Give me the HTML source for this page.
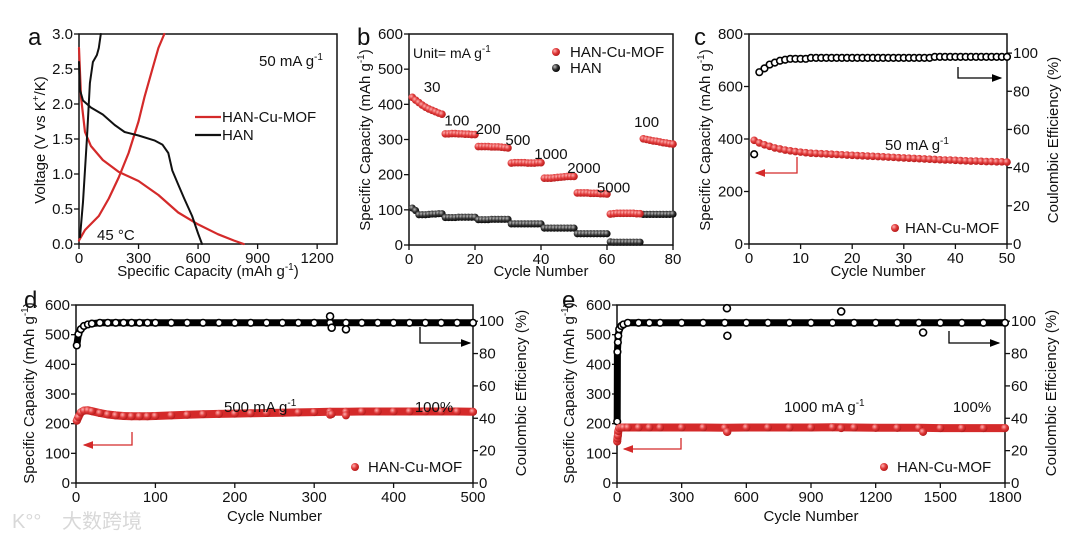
<!DOCTYPE html>
<html><head><meta charset="utf-8"><style>
body{margin:0;background:#fff;}
svg{display:block;font-family:"Liberation Sans","Noto Sans CJK SC",sans-serif;}
</style></head><body>
<svg id="fig" width="1080" height="540" viewBox="0 0 1080 540" xmlns="http://www.w3.org/2000/svg">
<defs>
<radialGradient id="rg" cx="0.35" cy="0.35" r="0.7"><stop offset="0" stop-color="#ffb0b0"/><stop offset="0.5" stop-color="#e03a3a"/><stop offset="1" stop-color="#b01818"/></radialGradient>
<radialGradient id="kg" cx="0.35" cy="0.35" r="0.7"><stop offset="0" stop-color="#bbb"/><stop offset="0.5" stop-color="#333"/><stop offset="1" stop-color="#000"/></radialGradient>
<marker id="arK" markerWidth="8" markerHeight="6" refX="7" refY="3" orient="auto"><path d="M0,0 L8,3 L0,6 z" fill="#000"/></marker>
<marker id="arR" markerWidth="8" markerHeight="6" refX="7" refY="3" orient="auto"><path d="M0,0 L8,3 L0,6 z" fill="#d42a2a"/></marker>
</defs>
</svg>
<script>
// ---- Panel a data ----
const aMofDisX=[0,10,30,60,120,200,300,400,500,600,700,780,830];
const aMofDisY=[2.8,2.1,1.6,1.4,1.2,1.03,0.9,0.7,0.45,0.28,0.14,0.05,0.0];
const aMofChX=[0,30,100,150,200,250,300,330,370,400,430];
const aMofChY=[0.05,0.2,0.4,0.65,0.95,1.3,1.75,2.1,2.5,2.8,3.0];
const aHanDisX=[0,5,20,60,120,180,230,300,380,420,450,470,500,530,570,600,620];
const aHanDisY=[2.6,2.2,2.05,1.95,1.85,1.7,1.6,1.55,1.48,1.42,1.3,1.05,0.85,0.65,0.4,0.15,0.0];
const aHanChX=[5,20,40,55,70,90,100,110];
const aHanChY=[0.1,0.6,1.5,2.3,2.6,2.7,2.8,3.0];
const aXTicks=[0,300,600,900,1200];
const aYTicks=[0,0.5,1.0,1.5,2.0,2.5,3.0];
// ---- Panel b data ----
const bMof=[420,412,405,398,392,387,383,379,375,372,316,316,317,317,316,316,315,315,314,314,280,280,280,280,279,279,279,278,277,276,233,234,234,234,234,233,233,233,234,234,190,190,190,191,192,193,194,195,195,195,148,148,148,148,147,147,147,146,146,145,88,89,90,90,90,90,90,90,89,89,302,300,298,296,295,293,291,290,288,287];
const bHan=[105,98,86,86,86,87,88,88,89,89,78,78,78,78,79,79,79,79,79,79,72,72,72,72,73,73,73,73,73,73,60,60,60,60,60,60,60,60,60,60,48,48,48,48,48,48,48,48,48,48,32,32,32,32,32,32,32,32,32,32,9,8,8,8,8,8,8,8,8,8,87,87,87,87,87,87,87,87,87,88];
const bRateLabels=["30","100","200","500","1000","2000","5000","100"];
const bRateCycles=[7,14.5,24,33,43,53,62,72];
const bRateCaps=[435,340,315,285,245,205,150,335];
// ---- Panel c data ----
const cCap=[395,385,378,372,366,362,358,355,352,350,348,346,345,344,343,342,341,340,339,338,337,336,335,334,333,332,331,330,329,328,327,326,325,324,323,322,321,320,320,319,318,317,316,316,315,314,314,313,313,312];
const cCE=[47,90,92,94,95,96,96.5,97,97,97,97,97.5,97.5,97.5,97.5,97.5,97.5,97.5,97.5,97.5,97.5,97.5,97.5,97.5,97.5,97.5,97.5,97.5,97.5,97.5,97.5,97.5,97.5,97.5,97.5,98,98,98,98,98,98,98,98,98,98,98,98,98,98,98];
// ---- Panel d data ----
const dCycles=[1,3,6,10,15,20,30,40,50,60,70,80,90,100,120,140,160,180,200,220,240,260,280,300,320,340,360,380,400,420,440,460,480,500];
const dCap=[210,222,238,244,245,242,236,231,228,226,225,225,225,226,228,230,232,233,234,235,236,237,238,239,240,240,241,241,241,241,241,241,241,240];
const dCE=[85,92,95,97,98,98.5,99,99,99,99,99,99,99,99,99,99,99,99,99,99,99,99,99,99,99,99,99,99,99,99,99,99,99,99];
const dOutCycles=[320,322,340];
const dOutCE=[103,96,95];
const dOutCap=[230,232,228];
// ---- Panel e data ----
const eCycles=[1,2,4,6,10,20,30,50,100,150,200,300,400,500,600,700,800,900,1000,1100,1200,1300,1400,1500,1600,1700,1800];
const eCap=[140,150,160,175,185,187,187,187,187,187,187,187,187,186,187,187,187,187,188,187,186,186,186,185,185,185,185];
const eCE=[38,81,87,91,95,97,98,99,99,99,99,99,99,99,99,99,99,99,99,99,99,99,99,99,99,99,99];
const eOutCycles=[510,512,1040,1420];
const eOutCE=[108,91,106,93];
const eOutCap=[172,172,185,172];

const NS="http://www.w3.org/2000/svg";
const svg=document.getElementById('fig');
function el(tag,attrs,parent){const e=document.createElementNS(NS,tag);for(const k in attrs)e.setAttribute(k,attrs[k]);(parent||svg).appendChild(e);return e;}
function txt(x,y,s,opt,parent){opt=opt||{};const t=el('text',{x:x,y:y,'font-size':opt.fs||15,'text-anchor':opt.anchor||'start',fill:opt.fill||'#111'},parent);if(opt.rot)t.setAttribute('transform','rotate('+opt.rot+' '+x+' '+y+')');t.innerHTML=s;return t;}
function lin(d0,d1,r0,r1){return v=>r0+(v-d0)*(r1-r0)/(d1-d0);}
function frame(g,x0,x1,y0,y1,xs,ys,xt,yt,yR,yRt,yfmt){
  const f=el('rect',{x:x0,y:y1,width:x1-x0,height:y0-y1,fill:'none',stroke:'#111','stroke-width':1.5},g);
  
  xt.forEach(v=>{const x=xs(v);el('line',{x1:x,y1:y0,x2:x,y2:y0+5,stroke:'#111','stroke-width':1.3},g);const t=txt(x,y0+19,v,{anchor:'middle'},g);});
  yt.forEach(v=>{const y=ys(v);el('line',{x1:x0-5,y1:y,x2:x0,y2:y,stroke:'#111','stroke-width':1.3},g);const t=txt(x0-6,y+5,yfmt?yfmt(v):v,{anchor:'end'},g);});
  if(yR){yRt.forEach(v=>{const y=yR(v);el('line',{x1:x1,y1:y,x2:x1+5,y2:y,stroke:'#111','stroke-width':1.3},g);const t=txt(x1+6,y+5,v,{},g);});}
}
function path(g,xs,ys,X,Y,color,w){let d='';X.forEach((v,i)=>{d+=(i?'L':'M')+xs(v).toFixed(1)+','+ys(Y[i]).toFixed(1);});return el('path',{d:d,fill:'none',stroke:color,'stroke-width':w||2,'stroke-linejoin':'round','stroke-linecap':'round'},g);}
function redDot(g,x,y,r){return el('circle',{cx:x,cy:y,r:r||3.6,fill:'url(#rg)'},g);}
function blkDot(g,x,y,r){return el('circle',{cx:x,cy:y,r:r||3.3,fill:'#fff',stroke:'#000','stroke-width':1.6},g);}

// ===== Panel a =====
{const g=el('g',{});
const xs=lin(0,1300,79,337), ys=lin(0,3,244,34);
frame(g,79,337,244,34,xs,ys,aXTicks,aYTicks,null,null,v=>v.toFixed(1));
const p1=path(g,xs,ys,aMofDisX,aMofDisY,'#d42a2a',2.2);
const p2=path(g,xs,ys,aMofChX,aMofChY,'#d42a2a',2.2);
const p3=path(g,xs,ys,aHanDisX,aHanDisY,'#111',2);
const p4=path(g,xs,ys,aHanChX,aHanChY,'#111',2);
const l=txt(28,45,'a',{fs:24});
const n=txt(259,66,'50 mA g<tspan dy="-6" font-size="10">-1</tspan>',{},g);
const t45=txt(97,240,'45 °C',{},g);
const lg1=el('line',{x1:195,y1:117,x2:221,y2:117,stroke:'#d42a2a','stroke-width':2.2},g);
const lt1=txt(222,122,'HAN-Cu-MOF',{},g);
const lg2=el('line',{x1:195,y1:135,x2:221,y2:135,stroke:'#111','stroke-width':2.2},g);
const lt2=txt(222,140,'HAN',{},g);
const yt=txt(45,140,'Voltage (V vs K<tspan dy="-6" font-size="10">+</tspan><tspan dy="6">/K)</tspan>',{anchor:'middle',rot:-90},g);
const xt=txt(208,276,'Specific Capacity (mAh g<tspan dy="-6" font-size="10">-1</tspan><tspan dy="6">)</tspan>',{anchor:'middle'},g);
}
// ===== Panel b =====
{const g=el('g',{});
const xs=lin(0,80,409,673), ys=lin(0,600,245,34);
frame(g,409,673,245,34,xs,ys,[0,20,40,60,80],[0,100,200,300,400,500,600],null,null);
bHan.forEach((v,i)=>{const c=el('circle',{cx:xs(i+1),cy:ys(v),r:3.6,fill:'url(#kg)'},g);});
bMof.forEach((v,i)=>{const c=redDot(g,xs(i+1),ys(v),3.8);});
bRateLabels.forEach((s,i)=>{const t=txt(xs(bRateCycles[i]),ys(bRateCaps[i]),s,{anchor:'middle'},g);});
const l=txt(357,45,'b',{fs:24});
const u=txt(413,58,'Unit= mA g<tspan dy="-6" font-size="10">-1</tspan>',{fs:14},g);
const d1=redDot(g,556,52,4);
const t1=txt(570,57,'HAN-Cu-MOF',{},g);
const d2=el('circle',{cx:556,cy:68,r:4,fill:'url(#kg)'},g);
const t2=txt(570,73,'HAN',{},g);
const yt=txt(370,140,'Specific Capacity (mAh g<tspan dy="-6" font-size="10">-1</tspan><tspan dy="6">)</tspan>',{anchor:'middle',rot:-90},g);
const xt=txt(541,276,'Cycle Number',{anchor:'middle'},g);
}
// ===== Panel c =====
{const g=el('g',{});
const xs=lin(0,50,749,1007), ys=lin(0,800,244,34), yr=lin(0,110,244,34);
frame(g,749,1007,244,34,xs,ys,[0,10,20,30,40,50],[0,200,400,600,800],yr,[0,20,40,60,80,100]);
cCE.forEach((v,i)=>{const c=blkDot(g,xs(i+1),yr(v),3.3);});
cCap.forEach((v,i)=>{const c=redDot(g,xs(i+1),ys(v),3.8);});
const l=txt(694,45,'c',{fs:24});
const n=txt(885,150,'50 mA g<tspan dy="-6" font-size="10">-1</tspan>',{},g);
const a1=el('path',{d:'M958,67 L958,78 L1001,78',fill:'none',stroke:'#000','stroke-width':1.3,'marker-end':'url(#arK)'},g);
const a2=el('path',{d:'M797,157 L797,173 L756,173',fill:'none',stroke:'#d42a2a','stroke-width':1.3,'marker-end':'url(#arR)'},g);
const d1=redDot(g,895,228,4);
const t1=txt(905,233,'HAN-Cu-MOF',{},g);
const yt=txt(710,140,'Specific Capacity (mAh g<tspan dy="-6" font-size="10">-1</tspan><tspan dy="6">)</tspan>',{anchor:'middle',rot:-90},g);
const yt2=txt(1058,140,'Coulombic Efficiency (%)',{anchor:'middle',rot:-90},g);
const xt=txt(878,276,'Cycle Number',{anchor:'middle'},g);
}
// ===== Panels d & e =====
function longPanel(o){
const g=el('g',{});
const xs=lin(0,o.xmax,o.x0,o.x1), ys=lin(0,600,483,305), yr=lin(0,110,483,305);
frame(g,o.x0,o.x1,483,305,xs,ys,o.xt,[0,100,200,300,400,500,600],yr,[0,20,40,60,80,100]);
const lc=path(g,xs,yr,o.cyc,o.ce,'#000',7);
o.cyc.forEach((c,i)=>{const p=blkDot(g,xs(c),yr(o.ce[i]),3.3);});
o.oc.forEach((c,i)=>{const p=blkDot(g,xs(c),yr(o.oce[i]),3.5);});
const lr=path(g,xs,ys,o.cyc,o.cap,'#d42a2a',8);
o.cyc.forEach((c,i)=>{const p=redDot(g,xs(c),ys(o.cap[i]),4);});
o.oc.forEach((c,i)=>{const p=redDot(g,xs(c),ys(o.ocap[i]),4);});
const l=txt(o.lx,o.ly,o.letter,{fs:24});
const n=txt(o.noteX,412,o.note+' mA g<tspan dy="-6" font-size="10">-1</tspan>',{},g);
const p100=txt(o.retX,412,'100%',{anchor:'middle'},g);
const a1=el('path',{d:o.arrK,fill:'none',stroke:'#000','stroke-width':1.3,'marker-end':'url(#arK)'},g);
const a2=el('path',{d:o.arrR,fill:'none',stroke:'#d42a2a','stroke-width':1.3,'marker-end':'url(#arR)'},g);
const d1=redDot(g,o.lgX,467,4);
const t1=txt(o.lgX+13,472,'HAN-Cu-MOF',{},g);
const yt=txt(o.titleL,393,'Specific Capacity (mAh g<tspan dy="-6" font-size="10">-1</tspan><tspan dy="6">)</tspan>',{anchor:'middle',rot:-90},g);
const yt2=txt(o.titleR,393,'Coulombic Efficiency (%)',{anchor:'middle',rot:-90},g);
const xtt=txt((o.x0+o.x1)/2,521,'Cycle Number',{anchor:'middle'},g);
}
longPanel({name:'panel-d',letter:'d',lx:24,ly:308,x0:76,x1:473,xmax:500,xt:[0,100,200,300,400,500],cyc:dCycles,cap:dCap,ce:dCE,oc:dOutCycles,oce:dOutCE,ocap:dOutCap,note:'500',noteX:224,retX:434,lgX:355,
 arrK:'M420,327 L420,343 L470,343',arrR:'M132,432 L132,445 L84,445',titleL:34,titleR:526});
longPanel({name:'panel-e',letter:'e',lx:562,ly:308,x0:617,x1:1005,xmax:1800,xt:[0,300,600,900,1200,1500,1800],cyc:eCycles,cap:eCap,ce:eCE,oc:eOutCycles,oce:eOutCE,ocap:eOutCap,note:'1000',noteX:784,retX:972,lgX:884,
 arrK:'M949,331 L949,343 L999,343',arrR:'M681,438 L681,449 L624,449',titleL:574,titleR:1056});
{const w=txt(62,528,'大数跨境',{fs:20,fill:'#d8d8d8'});
const w2=txt(12,528,'K°°',{fs:20,fill:'#d8d8d8'});}
</script>
</body></html>
